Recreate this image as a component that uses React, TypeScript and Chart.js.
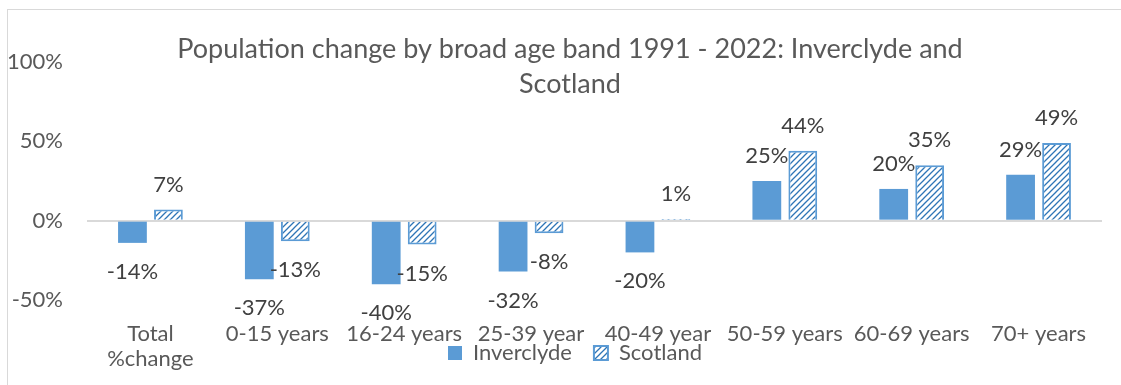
import React, { useEffect, useRef } from "react";
import { Chart, registerables } from "chart.js";

Chart.register(...registerables);

const categories: (string | string[])[] = [
  ["Total", "%change"],
  "0-15 years",
  "16-24 years",
  "25-39 year",
  "40-49 year",
  "50-59 years",
  "60-69 years",
  "70+ years",
];
const inverclyde = [-14, -37, -40, -32, -20, 25, 20, 29];
const scotland = [7, -13, -15, -8, 1, 44, 35, 49];
const yTicks = [-50, 0, 50, 100];
const titleLines = [
  "Population change by broad age band 1991 - 2022: Inverclyde and",
  "Scotland",
];
const seriesNames = ["Inverclyde", "Scotland"];

const FONT = "Lato";

function makeHatch(ctx: CanvasRenderingContext2D) {
  const c = document.createElement("canvas");
  c.width = 6;
  c.height = 6;
  const g = c.getContext("2d")!;
  g.fillStyle = "#ffffff";
  g.fillRect(0, 0, 6, 6);
  g.strokeStyle = "#2E75B6";
  g.lineWidth = 1.3;
  g.beginPath();
  g.moveTo(0, 6);
  g.lineTo(6, 0);
  g.moveTo(-1, 1);
  g.lineTo(1, -1);
  g.moveTo(5, 7);
  g.lineTo(7, 5);
  g.stroke();
  return ctx.createPattern(c, "repeat")!;
}

const framePlugin = {
  id: "frameAndTitle",
  afterLayout(chart: any) {
    const lg = chart.legend;
    if (lg) {
      lg.left += 24;
      lg.right += 24;
      lg.top = 320;
      lg.bottom = 384;
      lg.height = 64;
    }
  },
  beforeDraw(chart: any) {
    const ctx = chart.ctx as CanvasRenderingContext2D;
    ctx.save();
    ctx.strokeStyle = "#D9D9D9";
    ctx.lineWidth = 1;
    ctx.strokeRect(7.5, 9.5, 3000, 3000);
    ctx.fillStyle = "#595959";
    ctx.font = `27px ${FONT}`;
    ctx.textAlign = "center";
    ctx.textBaseline = "alphabetic";
    ctx.fillText(titleLines[0], 570, 58);
    ctx.fillText(titleLines[1], 570, 93);
    ctx.restore();
  },
};

const labelPlugin = {
  id: "valueLabels",
  afterDatasetsDraw(chart: any) {
    const ctx = chart.ctx as CanvasRenderingContext2D;
    ctx.save();
    ctx.font = `22px ${FONT}`;
    ctx.fillStyle = "#404040";
    ctx.textAlign = "center";
    ctx.textBaseline = "middle";
    chart.data.datasets.forEach((ds: any, di: number) => {
      const meta = chart.getDatasetMeta(di);
      meta.data.forEach((bar: any, i: number) => {
        const v = ds.data[i] as number;
        const y = v >= 0 ? bar.y - 25 : bar.y + 29;
        ctx.fillText(`${v}%`, bar.x, y);
      });
    });
    ctx.restore();
  },
};

export default function App() {
  const ref = useRef<HTMLCanvasElement>(null);

  useEffect(() => {
    const canvas = ref.current!;
    const ctx = canvas.getContext("2d")!;
    const hatch = makeHatch(ctx);
    const chart = new Chart(ctx, {
      type: "bar",
      data: {
        labels: categories as any,
        datasets: [
          {
            label: seriesNames[0],
            data: inverclyde,
            backgroundColor: "#5B9BD5",
            borderWidth: 0,
            categoryPercentage: 0.567,
            barPercentage: 0.8,
          },
          {
            label: seriesNames[1],
            data: scotland,
            backgroundColor: hatch as any,
            borderColor: "#5B9BD5",
            borderWidth: 2,
            categoryPercentage: 0.567,
            barPercentage: 0.8,
          },
        ],
      },
      options: {
        responsive: false,
        animation: false,
        layout: { padding: { left: 0, right: 19, top: 62, bottom: 0 } },
        plugins: {
          title: { display: false },
          tooltip: { enabled: false },
          legend: {
            position: "bottom",
            maxHeight: 5,
            labels: {
              boxWidth: 14,
              boxHeight: 14,
              padding: 22,
              color: "#595959",
              font: { family: FONT, size: 22 },
            },
          },
        },
        scales: {
          x: {
            grid: { display: false },
            border: { display: false },
            ticks: {
              color: "#595959",
              font: { family: FONT, size: 22, lineHeight: 1.15 },
              padding: 13,
              maxRotation: 0,
              autoSkip: false,
            },
            afterFit: (s: any) => {
              s.height = 80;
            },
          },
          y: {
            min: -50,
            max: 100,
            border: { display: false },
            grid: {
              drawTicks: false,
              lineWidth: 2,
              color: (c: any) =>
                c.tick && c.tick.value === 0 ? "#D9D9D9" : "rgba(0,0,0,0)",
            },
            ticks: {
              color: "#595959",
              font: { family: FONT, size: 22 },
              padding: 24,
              callback: (v: any) => `${v}%`,
            },
            afterBuildTicks: (s: any) => {
              s.ticks = yTicks.map((v) => ({ value: v }));
            },
            afterFit: (s: any) => {
              s.width = 87;
            },
          },
        },
      },
      plugins: [framePlugin, labelPlugin],
    });
    return () => chart.destroy();
  }, []);

  return (
    <div style={{ position: "fixed", left: 0, top: 0, width: 1121, height: 385, background: "#fff" }}>
      <canvas ref={ref} width={1121} height={385} />
    </div>
  );
}
